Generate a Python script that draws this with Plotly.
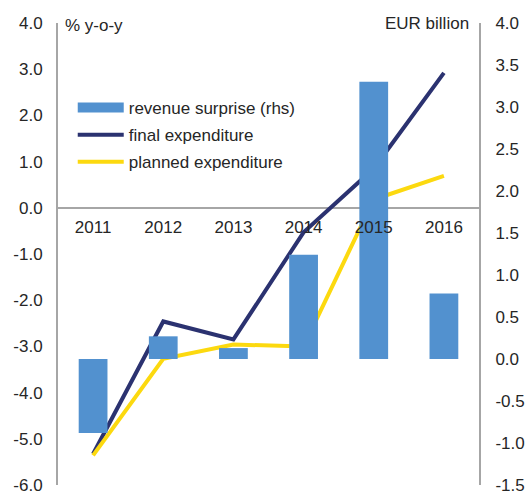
import plotly.graph_objects as go

years = ["2011", "2012", "2013", "2014", "2015", "2016"]
revenue_surprise = [-0.88, 0.27, 0.13, 1.24, 3.30, 0.78]
final_expenditure = [-5.33, -2.46, -2.85, -0.53, 0.85, 2.92]
planned_expenditure = [-5.36, -3.27, -2.96, -3.00, 0.18, 0.69]

left_ticks = [4, 3, 2, 1, 0, -1, -2, -3, -4, -5, -6]
left_labels = ["4.0", "3.0", "2.0", "1.0", "0.0", "-1.0", "-2.0", "-3.0", "-4.0", "-5.0", "-6.0"]
right_ticks = [4.0, 3.5, 3.0, 2.5, 2.0, 1.5, 1.0, 0.5, 0.0, -0.5, -1.0, -1.5]
right_labels = ["4.0", "3.5", "3.0", "2.5", "2.0", "1.5", "1.0", "0.5", "0.0", "-0.5", "-1.0", "-1.5"]

font_family = "Liberation Sans, Arial, sans-serif"
text_color = "#262626"
axis_color = "#a6a6a6"
bar_color = "#5291CF"
FS = 17

fig = go.Figure()
fig.add_trace(go.Bar(
    x=years, y=revenue_surprise, name="revenue surprise (rhs)",
    marker=dict(color=bar_color, line=dict(width=0)), width=0.41, yaxis="y2",
    showlegend=False,
))
# legend swatch for bars (wide rectangle as in reference)
fig.add_trace(go.Scatter(
    x=[None], y=[None], name="revenue surprise (rhs)", mode="lines",
    line=dict(color=bar_color, width=11), yaxis="y2", legendgroup="a",
))
fig.add_trace(go.Scatter(
    x=years, y=final_expenditure, name="final expenditure", mode="lines",
    line=dict(color="#2B3270", width=4), yaxis="y", legendgroup="b",
))
fig.add_trace(go.Scatter(
    x=years, y=planned_expenditure, name="planned expenditure", mode="lines",
    line=dict(color="#FCD90F", width=4), yaxis="y", legendgroup="c",
))

fig.update_layout(
    width=530, height=495,
    margin=dict(l=58, r=51, t=23, b=10),
    plot_bgcolor="white", paper_bgcolor="white",
    font=dict(family=font_family, size=FS, color=text_color),
    showlegend=True,
    legend=dict(
        x=0.035, y=0.855, xanchor="left", yanchor="top",
        bgcolor="rgba(0,0,0,0)", font=dict(size=FS, color=text_color),
        traceorder="grouped", tracegroupgap=2, itemwidth=46,
    ),
    xaxis=dict(
        type="category", anchor="free", position=0.6006, automargin=False,
        showline=False, showgrid=False, zeroline=False,
        ticks="outside", ticklen=4, tickcolor="rgba(0,0,0,0)",
        tickfont=dict(size=FS, color=text_color),
    ),
    yaxis=dict(
        range=[-6, 4], tickvals=left_ticks, ticktext=left_labels, automargin=False,
        showgrid=False, zeroline=True, zerolinecolor=axis_color, zerolinewidth=2,
        showline=True, linecolor=axis_color, linewidth=2,
        ticks="outside", ticklen=10, tickcolor="rgba(0,0,0,0)",
        tickfont=dict(size=FS, color=text_color),
    ),
    yaxis2=dict(
        range=[-1.5, 4], tickvals=right_ticks, ticktext=right_labels, automargin=False,
        overlaying="y", side="right", anchor="x",
        showgrid=False, zeroline=False,
        showline=True, linecolor=axis_color, linewidth=2,
        ticks="outside", ticklen=11, tickcolor="rgba(0,0,0,0)",
        tickfont=dict(size=FS, color=text_color),
    ),
    annotations=[
        dict(text="% y-o-y", xref="paper", yref="paper", x=0.012, y=0.995,
             xanchor="left", yanchor="middle", showarrow=False,
             font=dict(size=FS, color=text_color)),
        dict(text="EUR billion", xref="paper", yref="paper", x=0.98, y=1.0,
             xanchor="right", yanchor="middle", showarrow=False,
             font=dict(size=FS, color=text_color)),
    ],
)

fig.write_html(
    "out.html",
    config={"displayModeBar": False},
    post_script="document.body.style.margin='0';document.body.style.padding='0';",
)
